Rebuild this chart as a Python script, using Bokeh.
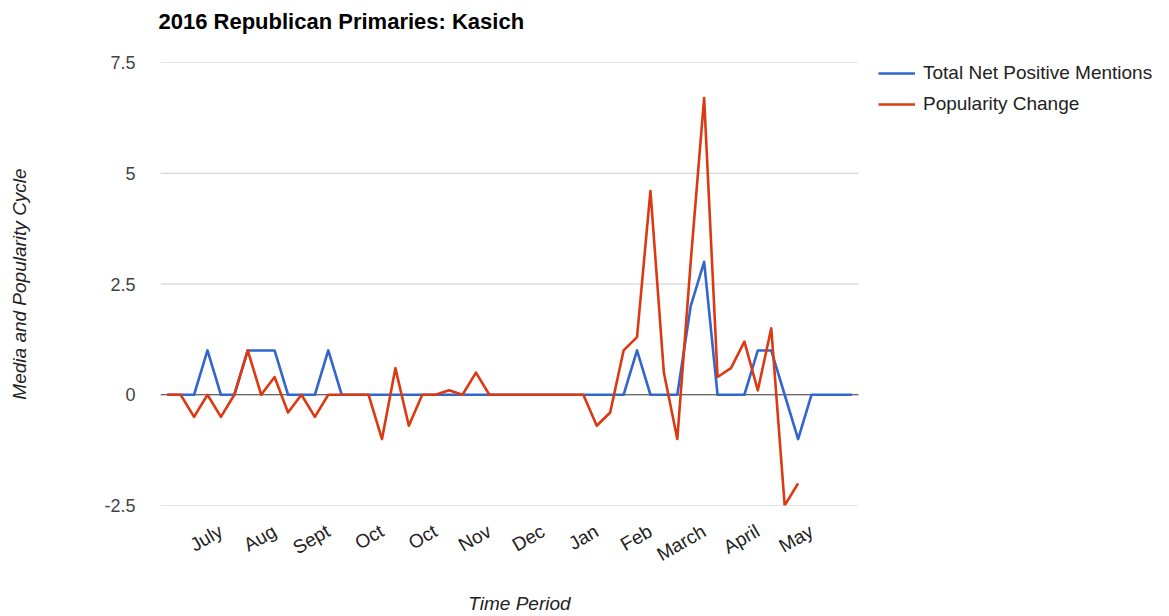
import math

from bokeh.embed import file_html
from bokeh.models import (ColumnDataSource, FixedTicker, Legend, LegendItem,
                          Range1d, Title)
from bokeh.plotting import figure
from bokeh.resources import INLINE

# ---- data -----------------------------------------------------------------
periods = list(range(52))

net_positive_mentions = [
    0, 0, 0, 1, 0, 0, 1, 1, 1, 0, 0, 0, 1,
    0, 0, 0, 0, 0, 0, 0, 0, 0, 0, 0, 0, 0, 0, 0, 0, 0, 0, 0, 0, 0, 0,
    1, 0, 0, 0, 2, 3, 0, 0, 0, 1, 1, 0, -1, 0, 0, 0, 0,
]

nan = float("nan")
popularity_change = [
    0, 0, -0.5, 0, -0.5, 0, 1, 0, 0.4, -0.4, 0, -0.5, 0,
    0, 0, 0, -1, 0.6, -0.7, 0, 0, 0.1, 0, 0.5,
    0, 0, 0, 0, 0, 0, 0, 0,
    -0.7, -0.4, 1, 1.3, 4.6, 0.5, -1, 3, 6.7, 0.4, 0.6, 1.2, 0.1, 1.5,
    -2.5, -2, nan, nan, nan, nan,
]

tick_positions = [4, 8, 12, 16, 20, 24, 28, 32, 36, 40, 44, 48]
tick_labels = ["July", "Aug", "Sept", "Oct", "Oct", "Nov", "Dec", "Jan",
               "Feb", "March", "April", "May"]

y_ticks = [-2.5, 0, 2.5, 5, 7.5]
y_tick_labels = ["-2.5", "0", "2.5", "5", "7.5"]

series_names = ["Total Net Positive Mentions", "Popularity Change"]
series_colors = ["#3366cc", "#dc3912"]

FONT = "Liberation Sans"

X_START, X_END = -0.5, len(periods) - 0.5   # band edges of the 52 periods
LEGEND_GAP = 1.49                           # extra room right of the last band

# ---- figure ---------------------------------------------------------------
p = figure(
    frame_width=718, frame_height=443,
    x_range=Range1d(X_START, X_END + LEGEND_GAP), y_range=Range1d(-2.5, 7.5),
    output_backend="svg", toolbar_location=None,
    min_border_left=160, min_border_right=0,
    min_border_top=62, min_border_bottom=111,
)
p.outline_line_color = None
p.background_fill_color = "white"
p.border_fill_color = "white"

# spacer between the chart title and the plot area
p.add_layout(Title(text=" ", text_font_size="12px", standoff=13), "above")

p.title.text = "2016 Republican Primaries: Kasich"
p.title.text_font = FONT
p.title.text_font_size = "22px"
p.title.text_font_style = "bold"
p.title.text_color = "#000000"
p.title.standoff = 0
p.title.offset = -2

# horizontal grid lines, limited to the band extent
p.xgrid.visible = False
p.ygrid.visible = False
grid_y = [t for t in y_ticks if t != 0]
p.segment(x0=[X_START] * len(grid_y), x1=[X_END] * len(grid_y),
          y0=grid_y, y1=grid_y, line_color="#cccccc", line_width=1)
# zero baseline
p.segment(x0=[X_START], x1=[X_END], y0=[0], y1=[0],
          line_color="#333333", line_width=1)

# y axis
p.yaxis.ticker = FixedTicker(ticks=y_ticks)
p.yaxis.major_label_overrides = dict(zip(y_ticks, y_tick_labels))
p.yaxis.axis_line_color = None
p.yaxis.major_tick_line_color = None
p.yaxis.minor_tick_line_color = None
p.yaxis.major_label_standoff = 19
p.yaxis.major_label_text_font = FONT
p.yaxis.major_label_text_font_size = "18px"
p.yaxis.major_label_text_color = "#444444"
p.yaxis.axis_label = "Media and Popularity Cycle"
p.yaxis.axis_label_text_font = FONT
p.yaxis.axis_label_text_font_size = "19px"
p.yaxis.axis_label_text_font_style = "italic"
p.yaxis.axis_label_text_color = "#222222"
p.yaxis.axis_label_standoff = 71

# x axis
p.xaxis.ticker = FixedTicker(ticks=tick_positions)
p.xaxis.major_label_overrides = dict(zip(tick_positions, tick_labels))
p.xaxis.major_label_orientation = math.pi / 6
p.xaxis.axis_line_color = None
p.xaxis.major_tick_line_color = None
p.xaxis.minor_tick_line_color = None
p.xaxis.major_label_standoff = 18
p.xaxis.major_label_text_font = FONT
p.xaxis.major_label_text_font_size = "19px"
p.xaxis.major_label_text_color = "#222222"
p.xaxis.axis_label = "Time Period"
p.xaxis.axis_label_text_font = FONT
p.xaxis.axis_label_text_font_size = "19px"
p.xaxis.axis_label_text_font_style = "italic"
p.xaxis.axis_label_text_color = "#222222"
p.xaxis.axis_label_standoff = 16

# series
src = ColumnDataSource(dict(x=periods, mentions=net_positive_mentions,
                            popularity=popularity_change))
r_blue = p.line("x", "mentions", source=src, line_color=series_colors[0],
                line_width=2.6, line_join="round")
r_red = p.line("x", "popularity", source=src, line_color=series_colors[1],
               line_width=2.6, line_join="round")

legend = Legend(
    items=[LegendItem(label=series_names[0], renderers=[r_blue]),
           LegendItem(label=series_names[1], renderers=[r_red])],
    location="top_left",
    padding=0, margin=0, spacing=9,
    glyph_width=37, glyph_height=22, label_height=22, label_standoff=8,
    label_text_font=FONT, label_text_font_size="19px",
    label_text_color="#222222",
    border_line_color=None, background_fill_alpha=0,
)
p.add_layout(legend, "right")

open("out.html", "w").write(file_html(p, INLINE))
